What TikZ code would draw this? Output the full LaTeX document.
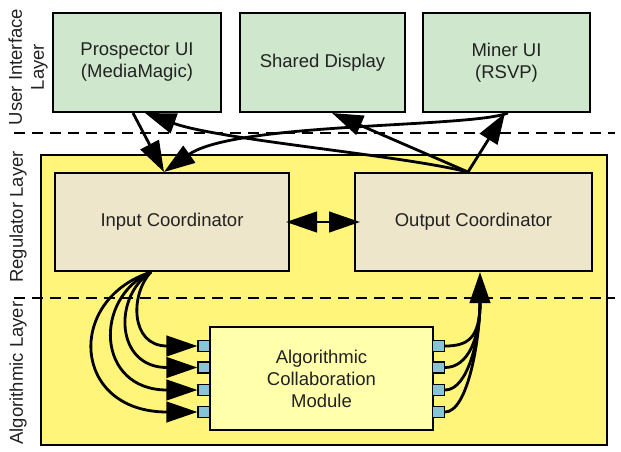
\documentclass[tikz,border=0pt]{standalone}
\usepackage{fontspec}
\setmainfont{Liberation Sans}
\usetikzlibrary{arrows.meta}
\definecolor{uigreen}{RGB}{207,232,205}
\definecolor{layeryellow}{RGB}{255,245,122}
\definecolor{coordbeige}{RGB}{238,230,202}
\definecolor{acmyellow}{RGB}{255,255,172}
\definecolor{portblue}{RGB}{136,196,216}
\definecolor{txt}{RGB}{34,34,34}
\tikzset{
  lbl/.style={text=txt, font=\fontsize{18.5}{22}\selectfont, align=center},
  box/.style={lbl, draw=black, line width=2pt, inner sep=0pt},
  uibox/.style={box, fill=uigreen, minimum height=99pt},
  coordbox/.style={box, fill=coordbeige, minimum height=98pt, minimum width=236pt},
  port/.style={draw=black, line width=1.2pt, fill=portblue, minimum width=12pt, minimum height=11pt, inner sep=0pt},
  tipbig/.tip={Triangle[length=31pt,width=20.5pt]},
  conn/.style={line width=2.8pt, -tipbig},
  dconn/.style={line width=2.8pt, tipbig-tipbig},
  layerlabel/.style={lbl, rotate=90, inner sep=0pt},
  sep/.style={line width=2.6pt, dash pattern=on 11pt off 7pt}
}
\begin{document}
\begin{tikzpicture}[x=1pt,y=-1pt]
\useasboundingbox (0,0) rectangle (621,451);
% regulator / algorithmic area
\draw[line width=2pt, fill=layeryellow] (41,155) rectangle (607,445);
% layer separators
\coordinate (d1a) at (14,133); \coordinate (d1b) at (615,133);
\coordinate (d2a) at (14,298); \coordinate (d2b) at (615,298);
\draw[sep] (d1a) -- (d1b);
\draw[sep] (d2a) -- (d2b);
% layer labels
\node[layerlabel] (lui) at (28,67) {User Interface\\Layer};
\node[layerlabel] (lreg) at (18,217) {Regulator Layer};
\node[layerlabel] (lalg) at (18,373) {Algorithmic Layer};
% UI boxes
\node[uibox, minimum width=168pt] (P) at (137,62.5) {Prospector UI\\(MediaMagic)};
\node[uibox, minimum width=165pt] (S) at (322.5,62.5) {Shared Display};
\node[uibox, minimum width=167pt] (M) at (506.5,62.5) {Miner UI\\(RSVP)};
% coordinators
\node[coordbox, minimum width=234pt] (In) at (172,222) {Input Coordinator};
\node[coordbox, minimum width=237pt] (Out) at (473.5,222) {Output Coordinator};
% algorithmic module
\node[box, fill=acmyellow, minimum width=223pt, minimum height=103pt] (A) at (321.5,378.5) {Algorithmic\\Collaboration\\Module};
% ports
\foreach \i/\y in {1/346,2/367.5,3/390,4/412}{
  \node[port] (pl\i) at (204,\y) {};
  \node[port] (pr\i) at (438.5,\y) {};
}
% connector end points
\coordinate (pa) at ([xshift=-4pt]P.south);
\coordinate (pb) at ([xshift=8pt]P.south);
\coordinate (ina) at ([xshift=-8pt]In.north);
\coordinate (outa) at ([xshift=-5.5pt]Out.north);
\coordinate (sa) at ([xshift=9.5pt]S.south);
\coordinate (ma) at ([xshift=1.5pt]M.south);
\coordinate (mb) at ([xshift=-1.5pt]M.south);
\coordinate (inb) at ([xshift=-21pt]In.south);
\coordinate (outb) at ([xshift=6.5pt]Out.south);
\coordinate (ine) at ([xshift=-4pt]In.east);
\coordinate (oute) at ([xshift=6pt]Out.west);
\coordinate (J) at (480,302);
% top connectors
\draw[conn] (pa) -- (ina);
\draw[conn] (ma) .. controls (470,128) and (235,122) .. (ina);
\draw[conn] (outa) .. controls (400,155) and (220,140) .. (pb);
\draw[conn] (outa) -- (sa);
\draw[conn] (outa) -- (mb);
% between coordinators
\draw[dconn] (ine) -- (oute);
% input coordinator to module
\draw[conn] (inb) .. controls (130,294) and (130,346) .. (pl1.west);
\draw[conn] (inb) .. controls (113,296) and (115,367.5) .. (pl2.west);
\draw[conn] (inb) .. controls (93,298) and (96,390) .. (pl3.west);
\draw[conn] (inb) .. controls (65,300) and (72,412) .. (pl4.west);
% module to output coordinator
\foreach \i/\y in {1/346,2/367.5,3/390,4/412}{
  \draw[line width=2.8pt] (pr\i.east) .. controls (468,\y) and (480,338) .. (J);
}
\draw[conn] (J) -- (outb);
\end{tikzpicture}
\end{document}
